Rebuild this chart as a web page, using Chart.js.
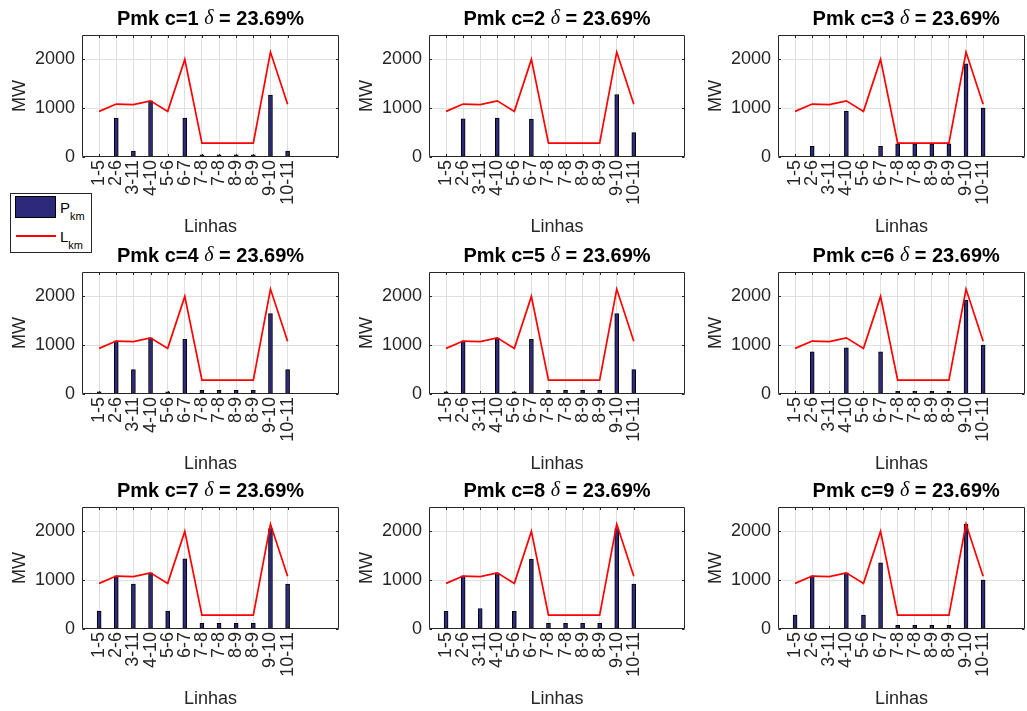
<!DOCTYPE html>
<html>
<head>
<meta charset="utf-8">
<script src="https://cdn.jsdelivr.net/npm/chart.js@4.4.1/dist/chart.umd.min.js"></script>
<style>
html,body{margin:0;padding:0;background:#ffffff;overflow:hidden;width:1027px;height:711px;}
canvas{position:absolute;}
#legend{position:absolute;left:10px;top:193px;width:82px;height:60px;box-sizing:border-box;border:1px solid #262626;background:#fff;font-family:'Liberation Sans',Arial,sans-serif;color:#000;z-index:5;}
#legend .sw{position:absolute;box-sizing:border-box;}
#legend .tx{position:absolute;font-size:15px;line-height:15px;white-space:nowrap;}
#legend .tx sub{font-size:11px;vertical-align:-7px;line-height:0;}
</style>
</head>
<body>
<div id="legend"></div>
<script>
// ---------- data ----------
const categories = ['1-5','2-6','3-11','4-10','5-6','6-7','7-8','7-8','8-9','8-9','9-10','10-11'];
const lineLimits = [935, 1085, 1075, 1150, 935, 2000, 285, 285, 285, 285, 2150, 1080];
const pmkC1 = [0, 800, 120, 1150, 10, 800, 45, 45, 45, 45, 1270, 120];
const pmkC2 = [8, 780, 5, 795, 8, 775, 15, 15, 15, 15, 1280, 500];
const pmkC3 = [5, 220, 5, 940, 5, 220, 270, 270, 270, 270, 1910, 1000];
const pmkC4 = [45, 1090, 500, 1150, 45, 1120, 75, 75, 75, 75, 1650, 500];
const pmkC5 = [45, 1090, 5, 1150, 45, 1120, 75, 75, 75, 75, 1650, 500];
const pmkC6 = [5, 865, 5, 945, 5, 865, 55, 55, 55, 55, 1920, 1000];
const pmkC7 = [365, 1090, 920, 1150, 365, 1440, 115, 115, 115, 115, 2060, 920];
const pmkC8 = [360, 1090, 420, 1150, 360, 1435, 115, 115, 115, 115, 2060, 920];
const pmkC9 = [285, 1090, 5, 1150, 285, 1355, 75, 75, 75, 75, 2150, 1000];
const panelSeries = [pmkC1, pmkC2, pmkC3, pmkC4, pmkC5, pmkC6, pmkC7, pmkC8, pmkC9];
const panelNames = ['c=1','c=2','c=3','c=4','c=5','c=6','c=7','c=8','c=9'];
const yTicks = [0, 1000, 2000];
const seriesNames = ['P_km', 'L_km'];
const deltaText = '23.69%';

// ---------- layout / style ----------
const FONT = "'Liberation Sans', Arial, Helvetica, sans-serif";
const colLefts = [0, 347, 696];
const rowTops = [0, 237, 472];
const axisWidths = [257, 256, 247];
const xMaxes = [15, 15, 14.45];
const Y_AXIS_W = 82, TOP_PAD = 35, X_AXIS_H = 81, AXIS_H = 122, RIGHT_PAD = 2;
const AXIS_COLOR = '#262626';
const GRID_COLOR = '#dfdfdf';
const BAR_FILL = '#2d2a7c';
const LINE_COLOR = '#ff0000';

Chart.defaults.font.family = FONT;

const matlabAxes = {
  id: 'matlabAxes',
  afterDatasetsDraw(chart, args, opts) {
    const {ctx, chartArea: a, scales: {x, y}} = chart;
    ctx.save();
    ctx.strokeStyle = AXIS_COLOR;
    ctx.lineWidth = 1;
    const L = Math.round(a.left) + 0.5, R = Math.round(a.right) - 0.5;
    const T = Math.round(a.top) + 0.5, B = Math.round(a.bottom) - 0.5;
    ctx.beginPath();
    ctx.rect(L, T, R - L, B - T);
    const tl = 2.5;
    x.ticks.forEach(t => {
      const px = Math.round(x.getPixelForValue(t.value)) + 0.5;
      ctx.moveTo(px, B); ctx.lineTo(px, B - tl);
      ctx.moveTo(px, T); ctx.lineTo(px, T + tl);
    });
    y.ticks.forEach(t => {
      const py = Math.round(y.getPixelForValue(t.value)) + 0.5;
      ctx.moveTo(L, py); ctx.lineTo(L + tl, py);
      ctx.moveTo(R, py); ctx.lineTo(R - tl, py);
    });
    ctx.stroke();
    ctx.restore();
  },
  afterDraw(chart, args, opts) {
    const {ctx, chartArea: a, scales: {x}} = chart;
    const parts = opts.parts || [];
    ctx.save();
    ctx.fillStyle = '#000';
    ctx.textBaseline = 'middle';
    ctx.textAlign = 'left';
    let total = 0;
    parts.forEach(p => { ctx.font = p.font; p.w = ctx.measureText(p.text).width; total += p.w; });
    let cx = x.getPixelForValue(7.5) - total / 2;
    const cy = a.top - 16;
    parts.forEach(p => { ctx.font = p.font; ctx.fillText(p.text, cx, cy); cx += p.w; });
    ctx.restore();
  }
};

function makePanel(idx) {
  const row = Math.floor(idx / 3), col = idx % 3;
  const canvas = document.createElement('canvas');
  const W = Y_AXIS_W + axisWidths[col] + RIGHT_PAD;
  const H = TOP_PAD + AXIS_H + X_AXIS_H;
  canvas.width = W; canvas.height = H;
  canvas.style.left = colLefts[col] + 'px';
  canvas.style.top = rowTops[row] + 'px';
  canvas.style.width = W + 'px'; canvas.style.height = H + 'px';
  document.body.insertBefore(canvas, document.getElementById('legend'));
  const bars = panelSeries[idx].map((v, i) => ({x: i + 1, y: v}));
  const line = lineLimits.map((v, i) => ({x: i + 1, y: v}));
  return new Chart(canvas, {
    type: 'bar',
    data: {
      datasets: [
        {type: 'bar', label: seriesNames[0], data: bars, backgroundColor: BAR_FILL, borderColor: '#000000',
         borderWidth: 1, barThickness: 4, order: 1},
        {type: 'line', label: seriesNames[1], data: line, borderColor: LINE_COLOR, backgroundColor: LINE_COLOR,
         borderWidth: 1.7, pointRadius: 0, tension: 0, fill: false, order: 0}
      ]
    },
    options: {
      responsive: false,
      animation: false,
      devicePixelRatio: 1,
      events: [],
      layout: {padding: {top: TOP_PAD, right: RIGHT_PAD, left: 0, bottom: 0}},
      plugins: {
        legend: {display: false},
        tooltip: {enabled: false},
        title: {display: false},
        matlabAxes: {
          parts: [
            {text: 'Pmk ' + panelNames[idx] + ' ', font: 'bold 20px ' + FONT},
            {text: '\u03B4', font: 'italic 20px "Liberation Serif", "DejaVu Serif", serif'},
            {text: ' = ' + deltaText, font: 'bold 20px ' + FONT}
          ]
        }
      },
      scales: {
        x: {
          type: 'linear',
          min: 0, max: xMaxes[col],
          offset: false,
          border: {display: false},
          grid: {offset: false, drawTicks: false, lineWidth: 1, color: GRID_COLOR},
          afterBuildTicks: (s) => { s.ticks = categories.map((c, i) => ({value: i + 1})); },
          ticks: {
            autoSkip: false,
            minRotation: 90, maxRotation: 90, padding: 3,
            color: AXIS_COLOR, font: {size: 18},
            callback: (v) => categories[Math.round(v) - 1] || ''
          },
          title: {display: true, text: 'Linhas', color: AXIS_COLOR, font: {size: 18}, padding: {top: 0, bottom: 0}},
          afterFit: (s) => { s.height = X_AXIS_H; s.paddingLeft = 0; s.paddingRight = 0; }
        },
        y: {
          type: 'linear',
          min: 0, max: 2500,
          border: {display: false},
          grid: {drawTicks: false, lineWidth: 1,
                 color: (c) => (c.tick && c.tick.value > 0) ? GRID_COLOR : 'rgba(0,0,0,0)'},
          afterBuildTicks: (s) => { s.ticks = yTicks.map(v => ({value: v})); },
          ticks: {
            padding: 7,
            color: AXIS_COLOR, font: {size: 18},
            callback: (v) => String(v)
          },
          title: {display: true, text: 'MW', color: AXIS_COLOR, font: {size: 18}, padding: {top: 9, bottom: 0}},
          afterFit: (s) => { s.width = Y_AXIS_W; s.paddingTop = 0; s.paddingBottom = 0; }
        }
      }
    },
    plugins: [matlabAxes]
  });
}

const charts = panelSeries.map((_, i) => makePanel(i));

// ---------- legend built from the first chart's legend items ----------
(function buildLegend(chart) {
  const el = document.getElementById('legend');
  const items = Chart.defaults.plugins.legend.labels.generateLabels(chart)
    .sort((a, b) => a.datasetIndex - b.datasetIndex);
  items.forEach((it, i) => {
    const type = chart.getDatasetMeta(it.datasetIndex).type;
    const sw = document.createElement('div');
    sw.className = 'sw';
    if (type === 'bar') {
      sw.style.left = '4px'; sw.style.top = '2px'; sw.style.width = '41px'; sw.style.height = '22px';
      sw.style.background = it.fillStyle; sw.style.border = '1px solid ' + it.strokeStyle;
    } else {
      sw.style.left = '5px'; sw.style.top = '41px'; sw.style.width = '40px'; sw.style.height = '2px';
      sw.style.background = it.strokeStyle;
    }
    el.appendChild(sw);
    const tx = document.createElement('div');
    tx.className = 'tx';
    tx.style.left = '49px';
    tx.style.top = (i === 0 ? 6 : 35) + 'px';
    const [base, sub] = it.text.split('_');
    tx.appendChild(document.createTextNode(base));
    if (sub) { const s = document.createElement('sub'); s.textContent = sub; tx.appendChild(s); }
    el.appendChild(tx);
  });
})(charts[0]);
</script>
</body>
</html>
